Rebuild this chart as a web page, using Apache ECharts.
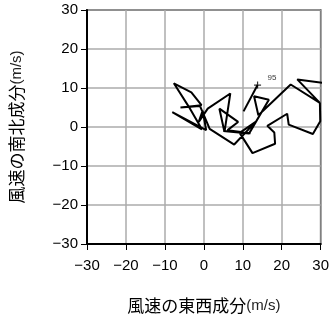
<!DOCTYPE html>
<html><head><meta charset="utf-8">
<script src="https://cdn.jsdelivr.net/npm/echarts@6/dist/echarts.min.js"></script>
<style>html,body{margin:0;padding:0;background:#fff}#c{width:332px;height:319px}</style>
</head><body><div id="c"></div>
<script>
// wind hodograph: east-west (u) and north-south (v) components, m/s
const uValues = [30.6,24.0,29.8,22.3,14.0,12.9,16.7,11.6,5.0,12.0,6.1,8.8,4.0,5.3,6.8,1.0,-1.3,-0.3,0.6,-8.1,-0.5,-3.8,-7.7,-3.2,-0.6,-6.0,-1.0,1.5,7.8,13.3,9.2,12.5,18.3,18.1,16.3,21.4,21.8,28.0,29.9,29.8];
const vValues = [11.3,12.2,6.2,10.9,3.0,7.9,7.0,-1.7,-1.0,-1.6,-0.8,1.3,4.7,-1.3,8.6,4.7,1.3,4.2,-0.8,3.8,-0.6,5.1,11.2,8.9,5.6,5.0,5.4,-0.5,-4.5,1.3,-1.5,-6.7,-4.3,-1.4,0.3,3.4,0.6,-1.8,1.5,6.2];
const markU = [10.2, 13.8];
const markV = [4.0, 10.75];
const markLabel = "95";
const axisTicks = [-30,-20,-10,0,10,20,30];
const xName = "風速の東西成分";
const yName = "風速の南北成分";
const unit = "(m/s)";

const path = uValues.map((u,i)=>[u, vValues[i]]);
const markPath = markU.map((u,i)=>[u, markV[i]]);
const fmt = v => String(v).replace('-', '\u2212');
const nameRich = {
  cjk:{fontFamily:'"Noto Sans CJK JP"',fontSize:17,color:'#000'},
  u:{fontFamily:'"Liberation Sans"',fontSize:15,color:'#222'}
};
const chart = echarts.init(document.getElementById('c'));
const axisCommon = {
  type:'value', min:axisTicks[0], max:axisTicks[axisTicks.length-1], interval:10,
  axisLine:{show:true,onZero:false,lineStyle:{color:'#000',width:2}},
  axisTick:{show:true,length:6,lineStyle:{color:'#000',width:1}},
  splitLine:{show:true,lineStyle:{color:'#ababab',width:1.5}},
  axisLabel:{formatter:fmt,color:'#000',fontSize:15,fontFamily:'"Liberation Sans"'},
  nameLocation:'middle',
  nameTextStyle:{rich:nameRich}
};
chart.setOption({
  animation:false,
  grid:[{left:86,right:10,top:10,bottom:73,show:true,borderColor:'#000',borderWidth:1.5,backgroundColor:'transparent'}],
  xAxis:[Object.assign({}, axisCommon, {name:'{cjk|'+xName+'}{u|'+unit+'}', nameGap:53, axisLabel:Object.assign({},axisCommon.axisLabel,{margin:14})})],
  yAxis:[Object.assign({}, axisCommon, {name:'{cjk|'+yName+'}{u|'+unit+'}', nameGap:62, axisLabel:Object.assign({},axisCommon.axisLabel,{margin:9})})],
  series:[
    {type:'line',data:path,showSymbol:false,lineStyle:{color:'#000',width:2},clip:true,z:3},
    {type:'line',data:markPath,showSymbol:false,lineStyle:{color:'#000',width:2},z:3},
    {type:'scatter',data:[markPath[1]],symbol:'path://M0,5L10,5M5,0L5,10',symbolSize:7,
      itemStyle:{color:'none',borderColor:'#000',borderWidth:1.2},
      label:{show:true,formatter:markLabel,position:'right',offset:[-1,-7],fontSize:8,color:'#000',fontFamily:'"Liberation Sans"'},z:4}
  ]
});
</script></body></html>
